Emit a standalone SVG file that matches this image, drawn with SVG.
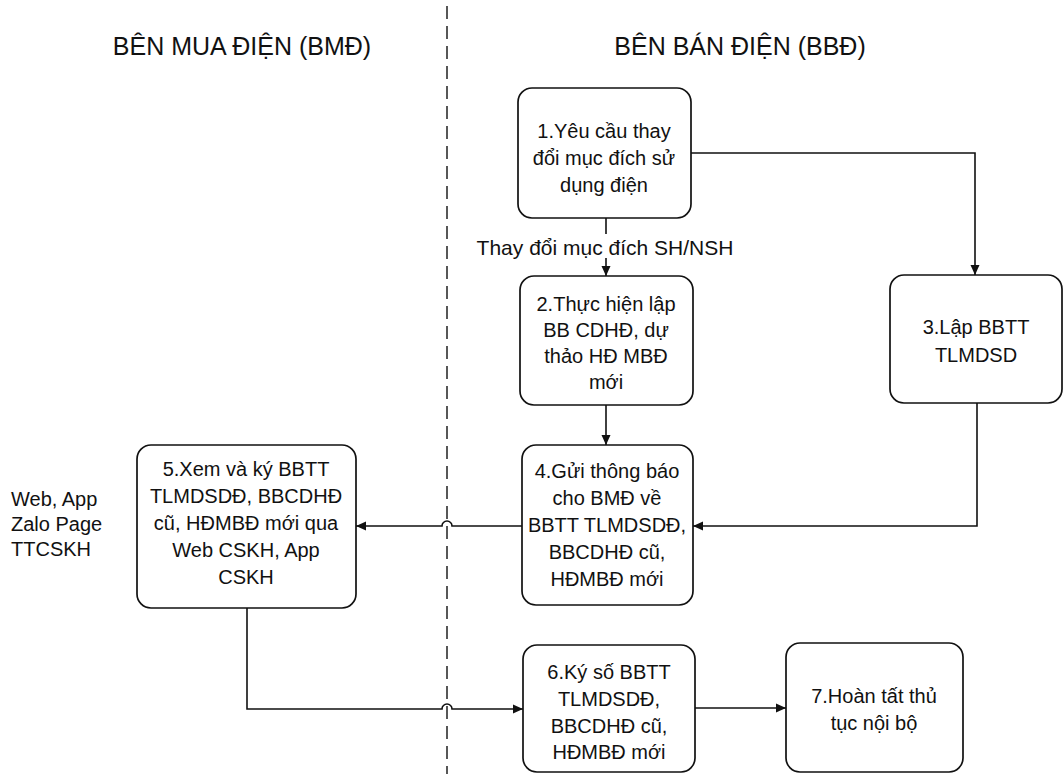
<svg xmlns="http://www.w3.org/2000/svg" width="1064" height="774" viewBox="0 0 1064 774">
<defs>
<marker id="arr" viewBox="0 0 10 10" refX="10" refY="5" markerWidth="10" markerHeight="10" markerUnits="userSpaceOnUse" orient="auto">
<path d="M0,0.5 L10,5 L0,9.5 z" fill="#111"/>
</marker>
<style>
.box{fill:#fff;stroke:#111;stroke-width:1.7}
.t{font-family:"Liberation Sans",Arial,sans-serif;font-size:20px;fill:#111;text-anchor:middle;dominant-baseline:central}
.h{font-family:"Liberation Sans",Arial,sans-serif;font-size:25px;fill:#111;text-anchor:middle;dominant-baseline:central}
.l{font-family:"Liberation Sans",Arial,sans-serif;font-size:20px;fill:#111;dominant-baseline:central}
.c{fill:none;stroke:#111;stroke-width:1.6}
.a{marker-end:url(#arr)}
</style>
</defs>
<rect width="1064" height="774" fill="#fff"/>
<line x1="447" y1="6" x2="447" y2="774" stroke="#111" stroke-width="1.4" stroke-dasharray="13 7"/>
<g id="headers">
<text class="h" x="242" y="46">BÊN MUA ĐIỆN (BMĐ)</text>
<text class="h" x="740" y="46">BÊN BÁN ĐIỆN (BBĐ)</text>
</g>
<g id="connectors">
<path class="c" d="M606 218 V234"/>
<path class="c a" d="M606 258 V276"/>
<path class="c a" d="M691 153 H975 V275"/>
<path class="c a" d="M606 405 V445"/>
<path class="c a" d="M977 403 V526 H693"/>
<path class="c a" d="M522 526 H452 A5 5 0 0 0 442 526 H356"/>
<path class="c a" d="M247 608 V709 H442 A5 5 0 0 1 452 709 H523"/>
<path class="c a" d="M695 708 H786"/>
<text class="t" x="605" y="247" style="font-size:21px">Thay đổi mục đích SH/NSH</text>
</g>
<g id="n1">
<rect class="box" x="518" y="88" width="173" height="130" rx="14"/>
<text class="t" x="604" y="131">1.Yêu cầu thay</text>
<text class="t" x="604" y="158">đổi mục đích sử</text>
<text class="t" x="604" y="185">dụng điện</text>
</g>
<g id="n2">
<rect class="box" x="520" y="276" width="173" height="129" rx="14"/>
<text class="t" x="606" y="304">2.Thực hiện lập</text>
<text class="t" x="606" y="330">BB CDHĐ, dự</text>
<text class="t" x="606" y="356">thảo HĐ MBĐ</text>
<text class="t" x="606" y="382">mới</text>
</g>
<g id="n3">
<rect class="box" x="890" y="275" width="172" height="128" rx="14"/>
<text class="t" x="976" y="327">3.Lập BBTT</text>
<text class="t" x="976" y="355">TLMDSD</text>
</g>
<g id="n4">
<rect class="box" x="522" y="445" width="171" height="160" rx="14"/>
<text class="t" x="607" y="471">4.Gửi thông báo</text>
<text class="t" x="607" y="498">cho BMĐ về</text>
<text class="t" x="607" y="525">BBTT TLMDSDĐ,</text>
<text class="t" x="607" y="552">BBCDHĐ cũ,</text>
<text class="t" x="607" y="579">HĐMBĐ mới</text>
</g>
<g id="n5">
<rect class="box" x="137" y="445" width="219" height="163" rx="14"/>
<text class="t" x="246" y="469">5.Xem và ký BBTT</text>
<text class="t" x="246" y="496">TLMDSDĐ, BBCDHĐ</text>
<text class="t" x="246" y="523">cũ, HĐMBĐ mới qua</text>
<text class="t" x="246" y="550">Web CSKH, App</text>
<text class="t" x="246" y="577">CSKH</text>
</g>
<g id="n5label">
<text class="l" x="11" y="499">Web, App</text>
<text class="l" x="11" y="524">Zalo Page</text>
<text class="l" x="11" y="549">TTCSKH</text>
</g>
<g id="n6">
<rect class="box" x="523" y="645" width="172" height="127" rx="14"/>
<text class="t" x="609" y="672">6.Ký số BBTT</text>
<text class="t" x="609" y="699">TLMDSDĐ,</text>
<text class="t" x="609" y="726">BBCDHĐ cũ,</text>
<text class="t" x="609" y="752">HĐMBĐ mới</text>
</g>
<g id="n7">
<rect class="box" x="786" y="643" width="177" height="129" rx="14"/>
<text class="t" x="874" y="696">7.Hoàn tất thủ</text>
<text class="t" x="874" y="723">tục nội bộ</text>
</g>
</svg>
